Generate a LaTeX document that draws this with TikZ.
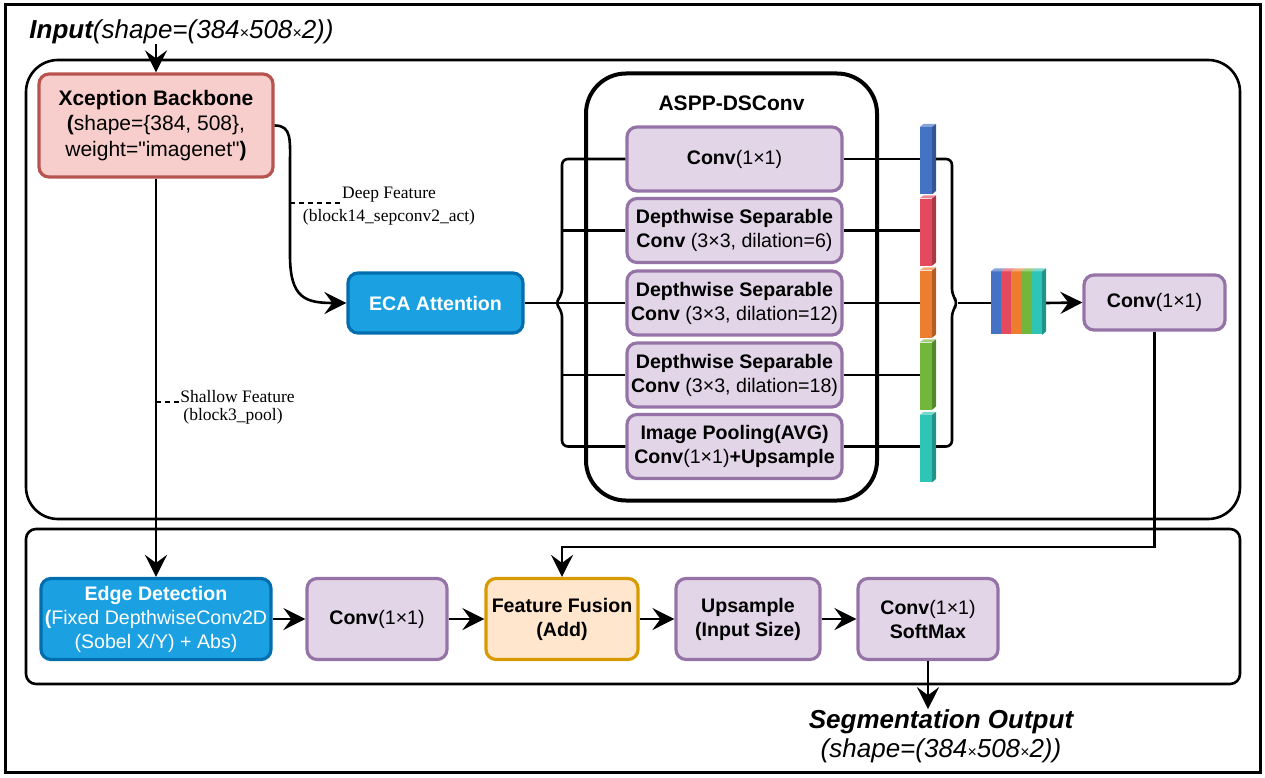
\documentclass[tikz,border=0pt]{standalone}
\usepackage{fontspec}
\setmainfont{Liberation Sans}
\newfontfamily\notefont{Liberation Serif}
\usepackage{xcolor}
\usetikzlibrary{arrows.meta}

\definecolor{xcpfill}{HTML}{F8CECC}
\definecolor{xcpline}{HTML}{B85450}
\definecolor{ecafill}{HTML}{1BA1E2}
\definecolor{ecaline}{HTML}{006EAF}
\definecolor{convfill}{HTML}{E1D5E7}
\definecolor{convline}{HTML}{9673A6}
\definecolor{fusefill}{HTML}{FFE6CC}
\definecolor{fuseline}{HTML}{D79B00}
\definecolor{barblue}{HTML}{4472C4}
\definecolor{barred}{HTML}{E34A5F}
\definecolor{barorange}{HTML}{ED7D31}
\definecolor{bargreen}{HTML}{72B63C}
\definecolor{barteal}{HTML}{2EC4B6}

\newcommand{\smx}{{\fontsize{16}{16}\selectfont ×}}

\tikzset{
	box/.style={draw, rounded corners=10pt, line width=3.2pt, align=center, inner sep=2pt, font=\fontsize{19.6}{24}\selectfont},
	xcpbox/.style={box, draw=xcpline, fill=xcpfill},
	ecabox/.style={box, draw=ecaline, fill=ecafill, text=white},
	convbox/.style={box, draw=convline, fill=convfill},
	fusebox/.style={box, draw=fuseline, fill=fusefill},
	asppbox/.style={convbox, minimum width=215pt, minimum height=64pt},
	rowbox/.style={minimum width=140pt, minimum height=81pt},
	bar/.style={inner sep=0pt, minimum width=12pt, minimum height=67pt},
	group/.style={line width=2.6pt},
	wire/.style={line width=2.6pt},
	flow/.style={wire, -{Stealth[length=22pt, width=22pt, inset=8pt]}},
	note/.style={inner sep=1pt, font=\notefont\fontsize{17.5}{20}\selectfont},
	notedash/.style={line width=1.3pt, dash pattern=on 5pt off 4pt},
	title/.style={inner sep=0pt, align=center, font=\fontsize{26}{29}\selectfont\itshape}
}

\begin{document}
\begin{tikzpicture}[x=1pt,y=-1pt]
	\useasboundingbox (0,0) rectangle (1265,778);
	%marcos
	\draw[line width=3pt] (5,5) rectangle (1260,772);
	\draw[group, rounded corners=32pt] (26,60) rectangle (1240,519);
	\draw[group, rounded corners=10pt] (26,529) rectangle (1240,684);
	
	%entrada y backbone
	\node[title] (input) at (181.5,32) {\textbf{Input}(shape=(384\smx508\smx2))};
	\node[xcpbox, minimum width=234pt, minimum height=103pt, font=\fontsize{21}{25.5}\selectfont] (xcp) at (156,125.5) {\textbf{Xception Backbone}\\\textbf{(}shape=\{384, 508\},\\weight=\textquotedbl imagenet\textquotedbl\textbf{)}};
	\node[ecabox, minimum width=175pt, minimum height=60pt] (eca) at (435.5,303) {\textbf{ECA Attention}};
	\draw[flow] (input.south -| xcp.north) -- (xcp.north);
	
	%deep feature
	\draw[flow] (xcp.east) .. controls (292,125.5) and (290,140) .. (290,165) -- (290,255) .. controls (290,298) and (305,303) .. (eca.west);
	\coordinate (deepc) at (290,203);
	\node[note] (deep1) at (389,195) {Deep Feature};
	\node[note] (deep2) at (389,217) {(block14\_sepconv2\_act)};
	\draw[notedash] (deepc) -- (deepc -| deep1.west);
	
	%ASPP
	\node[draw, line width=4pt, rounded corners=40pt, minimum width=291pt, minimum height=427pt] (aspp) at (731.5,287) {};
	\node[font=\bfseries\fontsize{21}{24}\selectfont] (asppt) at (731.5,103) {ASPP-DSConv};
	\node[asppbox] (b1) at (734.5,159) {\textbf{Conv}(1×1)};
	\node[asppbox] (b2) at (734.5,230.5) {\textbf{Depthwise Separable}\\\textbf{Conv} (3×3, dilation=6)};
	\node[asppbox] (b3) at (734.5,303) {\textbf{Depthwise Separable}\\\textbf{Conv} (3×3, dilation=12)};
	\node[asppbox] (b4) at (734.5,375) {\textbf{Depthwise Separable}\\\textbf{Conv} (3×3, dilation=18)};
	\node[asppbox] (b5) at (734.5,446.5) {\textbf{Image Pooling(AVG)}\\\textbf{Conv}(1×1)\textbf{+Upsample}};
	
	%llave izquierda
	\coordinate (lb) at (562,303);
	\coordinate (ltip) at (555,303);
	\draw[wire] (eca.east) -- (b3.west);
	\draw[wire, rounded corners=6pt] (b1.west) -- (b1.west -| lb) -- ([yshift=8pt]lb) -- (ltip) -- ([yshift=-8pt]lb) -- (b5.west -| lb) -- (b5.west);
	\draw[wire] (b2.west -| lb) -- (b2.west);
	\draw[wire] (b4.west -| lb) -- (b4.west);
	
	%barras
	\foreach \i/\c/\y in {1/barblue/160.5, 2/barred/232, 3/barorange/304, 4/bargreen/376, 5/barteal/448.5} {
		\node[bar, fill=\c] (bar\i) at (926,\y) {};
		\fill[\c!65!white] (bar\i.north west) -- ++(4,-3) -- ++(12,0) -- (bar\i.north east) -- cycle;
		\fill[\c!75!black] (bar\i.north east) -- ++(4,-3) -- ++(0,67) -- (bar\i.south east) -- cycle;
		\draw[wire] (b\i.east) -- (b\i.east -| bar\i.west);
	}
	
	%llave derecha
	\coordinate (rb) at (952,303);
	\coordinate (rtip) at (958,303);
	\draw[wire, rounded corners=6pt] ([xshift=4pt]b1.east -| bar1.east) -- (b1.east -| rb) -- ([yshift=8pt]rb) -- (rtip) -- ([yshift=-8pt]rb) -- (b5.east -| rb) -- ([xshift=4pt]b5.east -| bar5.east);
	
	%concat
	\node[bar, minimum width=51pt, minimum height=63pt] (cat) at (1016.5,303) {};
	\foreach \c [count=\k from 0] in {barblue,barred,barorange,bargreen,barteal} {
		\fill[\c] ([xshift={\k*10.2pt}]cat.north west) rectangle ++(10.2,63);
		\fill[\c!65!white] ([xshift={\k*10.2pt}]cat.north west) -- ++(4,-3) -- ++(10.2,0) -- ++(-4,3) -- cycle;
	}
	\fill[barteal!75!black] (cat.north east) -- ++(4,-3) -- ++(0,63) -- (cat.south east) -- cycle;
	\draw[wire] (rtip) -- (cat.west);
	
	\node[convbox, minimum width=141pt, minimum height=55pt] (conv2) at (1154.5,302.5) {\textbf{Conv}(1×1)};
	\draw[flow] ([xshift=4pt]cat.east) -- (conv2.west);
	
	%fila inferior
	\node[ecabox, rowbox, minimum width=230pt] (edge) at (156,619) {\textbf{Edge Detection}\\\textbf{(}Fixed DepthwiseConv2D\\(Sobel X/Y) + Abs)};
	\node[convbox, rowbox] (conv3) at (377,619) {\textbf{Conv}(1×1)};
	\node[fusebox, rowbox, minimum width=152pt] (fuse) at (562,619) {\textbf{Feature Fusion}\\\textbf{(Add)}};
	\node[convbox, rowbox, minimum width=144pt] (up) at (748,619) {\textbf{Upsample}\\\textbf{(Input Size)}};
	\node[convbox, rowbox] (soft) at (928,619) {\textbf{Conv}(1×1)\\\textbf{SoftMax}};
	
	\draw[flow] (xcp.south) -- (edge.north);
	\coordinate (shalc) at (156,402);
	\node[note] (shal1) at (237.5,397) {Shallow Feature};
	\node[note] (shal2) at (233,416) {(block3\_pool)};
	\draw[notedash] (shalc) -- (shalc -| shal1.west);
	
	\coordinate (fb) at (1154.5,547);
	\draw[flow] (conv2.south) -- (fb) -| (fuse.north);
	\draw[flow] (edge.east) -- (conv3.west);
	\draw[flow] (conv3.east) -- (fuse.west);
	\draw[flow] (fuse.east) -- (up.west);
	\draw[flow] (up.east) -- (soft.west);
	
	%salida
	\node[title] (output) at (941,736) {\textbf{Segmentation Output}\\(shape=(384\smx508\smx2))};
	\draw[flow] (soft.south) -- (soft.south |- output.north);
\end{tikzpicture}
\end{document}
